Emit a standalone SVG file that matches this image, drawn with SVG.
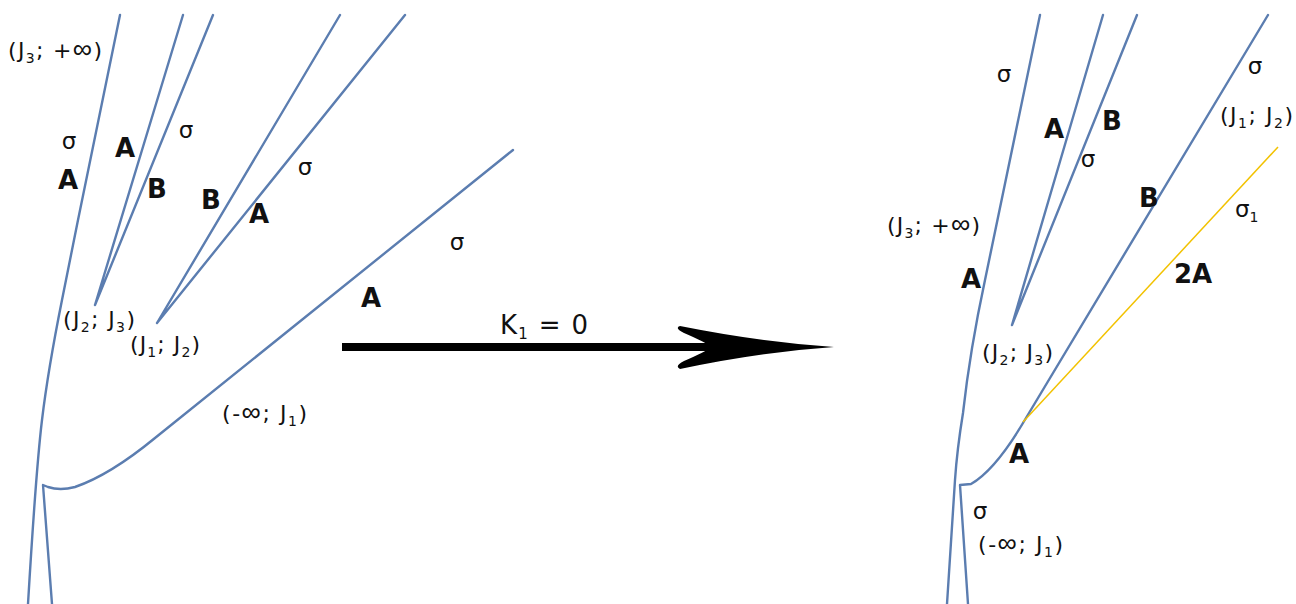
<svg xmlns="http://www.w3.org/2000/svg" width="1296" height="604" viewBox="0 0 1296 604">
<style>
.ln{fill:none;stroke:#5b7db0;stroke-width:2.4;stroke-linecap:round;stroke-linejoin:round}
.yl{fill:none;stroke:#f2c200;stroke-width:1.5}
.t{font-family:"DejaVu Sans","Liberation Sans",sans-serif;fill:#111}
.big{font-size:26px;font-weight:bold;text-anchor:middle}
.sg{font-size:23px;text-anchor:middle}
.lb{font-size:22px}
.sub{font-size:14px}
.inf{font-family:"Liberation Sans",sans-serif;font-size:27px}
</style>
<rect width="1296" height="604" fill="#fff"/>
<g id="connectors">
  <path class="ln" d="M120,15 L78,220 L62,300 Q48,370 42,420 Q36,470 28,604"/>
  <path class="ln" d="M52,604 L43,485 L48,487 Q60,491 75,487 Q110,475 155,438 L513,150"/>
  <path class="ln" d="M95,305 L183,15 M95,305 L213,15"/>
  <path class="ln" d="M157,323 L340,15 M157,323 L405,15"/>
  <g id="arrow">
    <line x1="342" y1="347" x2="716" y2="347" stroke="#000" stroke-width="8"/>
    <path d="M680,326 Q760,342 834,347 Q760,352 680,369 Q674,366 684,361 Q705,352 712,347 Q705,342 684,333 Q674,328 680,326 Z" fill="#000"/>
  </g>
  <path class="ln" d="M1040,15 L985,280 Q970,350 963,413 Q957,450 955,480 L947,604"/>
  <path class="ln" d="M968,604 L960,485 L971,484 Q995,470 1023,423 L1268,15"/>
  <path class="ln" d="M1012,325 L1103,15 M1012,325 L1137,15"/>
  <path class="yl" d="M1023,422 L1278,147"/>
</g>
<g id="labels-left">
  <text class="t lb" x="8" y="58" textLength="94">(J<tspan class="sub" dy="5">3</tspan><tspan dy="-5">; +</tspan><tspan class="inf">∞</tspan>)</text>
  <text class="t sg" x="69" y="149">σ</text>
  <text class="t big" x="68" y="189">A</text>
  <text class="t big" x="125" y="157">A</text>
  <text class="t sg" x="186" y="138">σ</text>
  <text class="t big" x="157" y="198">B</text>
  <text class="t big" x="211" y="209">B</text>
  <text class="t big" x="259" y="223">A</text>
  <text class="t sg" x="305" y="175">σ</text>
  <text class="t sg" x="457" y="250">σ</text>
  <text class="t big" x="371" y="307">A</text>
  <text class="t lb" x="63" y="327" textLength="72">(J<tspan class="sub" dy="5">2</tspan><tspan dy="-5">; J</tspan><tspan class="sub" dy="5">3</tspan><tspan dy="-5">)</tspan></text>
  <text class="t lb" x="130" y="352" textLength="70">(J<tspan class="sub" dy="5">1</tspan><tspan dy="-5">; J</tspan><tspan class="sub" dy="5">2</tspan><tspan dy="-5">)</tspan></text>
  <text class="t lb" x="222" y="421" textLength="85">(-<tspan class="inf">∞</tspan>; J<tspan class="sub" dy="5">1</tspan><tspan dy="-5">)</tspan></text>
</g>
<g id="label-arrow">
  <text class="t" x="500" y="334" font-size="26" textLength="88">K<tspan font-size="15" dy="5">1</tspan><tspan dy="-5"> = 0</tspan></text>
</g>
<g id="labels-right">
  <text class="t sg" x="1004" y="82">σ</text>
  <text class="t big" x="1054" y="138">A</text>
  <text class="t big" x="1112" y="130">B</text>
  <text class="t sg" x="1088" y="167">σ</text>
  <text class="t sg" x="1255" y="74">σ</text>
  <text class="t lb" x="1220" y="123" textLength="73">(J<tspan class="sub" dy="5">1</tspan><tspan dy="-5">; J</tspan><tspan class="sub" dy="5">2</tspan><tspan dy="-5">)</tspan></text>
  <text class="t big" x="1149" y="207">B</text>
  <text class="t" x="1235" y="217" font-size="23">σ<tspan class="sub" dy="5">1</tspan></text>
  <text class="t big" x="1193" y="283">2A</text>
  <text class="t lb" x="887" y="233" textLength="93">(J<tspan class="sub" dy="5">3</tspan><tspan dy="-5">; +</tspan><tspan class="inf">∞</tspan>)</text>
  <text class="t big" x="971" y="288">A</text>
  <text class="t lb" x="982" y="360" textLength="71">(J<tspan class="sub" dy="5">2</tspan><tspan dy="-5">; J</tspan><tspan class="sub" dy="5">3</tspan><tspan dy="-5">)</tspan></text>
  <text class="t big" x="1019" y="463">A</text>
  <text class="t sg" x="980" y="519">σ</text>
  <text class="t lb" x="978" y="552" textLength="85">(-<tspan class="inf">∞</tspan>; J<tspan class="sub" dy="5">1</tspan><tspan dy="-5">)</tspan></text>
</g>
</svg>
